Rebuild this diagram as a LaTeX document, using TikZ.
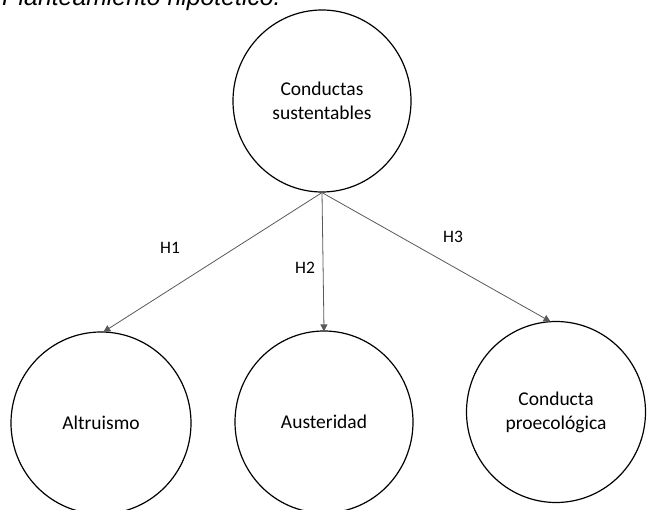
\documentclass[tikz,border=0pt]{standalone}
\usepackage{fontspec}
\setmainfont{Carlito}
\newfontfamily\titlefont{Liberation Sans}
\usetikzlibrary{shapes.geometric,arrows.meta}
\begin{document}
\begin{tikzpicture}[x=1pt,y=1pt,
  var/.style={draw=black,line width=1.2pt,ellipse,inner sep=0pt,align=center,
    font=\fontsize{19.5}{24}\selectfont},
  hyp/.style={draw=black!65,line width=0.8pt,-{Triangle[length=7pt,width=7pt]},
    shorten >=-1pt},
  lab/.style={font=\fontsize{17.5}{20}\selectfont,inner sep=0pt}]
\useasboundingbox (0,0) rectangle (650,509);
\node[anchor=base west,inner sep=0pt,font=\titlefont\itshape\fontsize{24.8}{30}\selectfont]
  (title) at (2,503) {Planteamiento hipotético.};
\node[var,minimum width=178pt,minimum height=182pt] (cs) at (322,408) {Conductas\\sustentables};
\node[var,minimum width=180pt,minimum height=182pt] (alt) at (101,86) {Altruismo};
\node[var,minimum width=178pt,minimum height=182pt] (aus) at (324,87) {Austeridad};
\node[var,minimum width=179pt,minimum height=181pt] (pro) at (556,97) {Conducta\\proecológica};
\draw[hyp] (cs.south) -- (alt.88);
\draw[hyp] (cs.south) -- (aus.90);
\draw[hyp] (cs.south) -- (pro.94);
\node[lab] (h1) at (170,261) {H1};
\node[lab] (h2) at (305,241) {H2};
\node[lab] (h3) at (453,272) {H3};
\end{tikzpicture}
\end{document}
